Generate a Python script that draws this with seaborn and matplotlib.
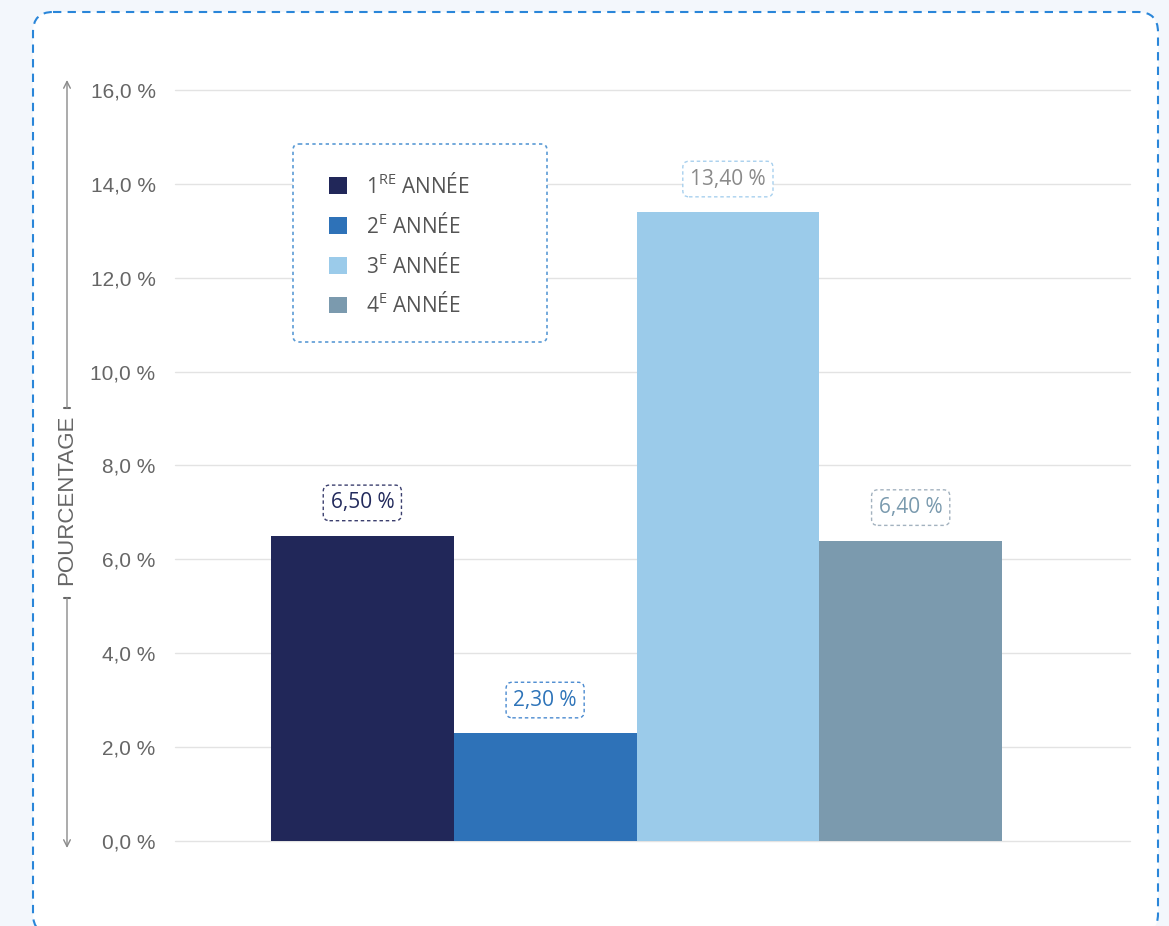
import matplotlib
matplotlib.use("Agg")
import matplotlib.pyplot as plt
import seaborn as sns
import pandas as pd
from matplotlib.patches import FancyBboxPatch

# ---- data ----
years = [r"1$^{RE}$ ANNÉE", r"2$^{E}$ ANNÉE", r"3$^{E}$ ANNÉE", r"4$^{E}$ ANNÉE"]
values = [6.50, 2.30, 13.40, 6.40]
value_labels = ["6,50 %", "2,30 %", "13,40 %", "6,40 %"]
yticks = [0, 2, 4, 6, 8, 10, 12, 14, 16]
ytick_labels = ["0,0 %", "2,0 %", "4,0 %", "6,0 %", "8,0 %", "10,0 %", "12,0 %", "14,0 %", "16,0 %"]
ylabel = "POURCENTAGE"

bar_colors = ["#212759", "#2e72b8", "#9bcbea", "#7b9aae"]
label_text_colors = ["#222a5c", "#2e74b9", "#8a8a8a", "#7a9aae"]
label_edge_colors = ["#3b3f6e", "#4a8ad0", "#a8d0ee", "#a3b2bf"]

sns.set_theme(style="white")
plt.rcParams["font.family"] = ["Open Sans", "DejaVu Sans"]
plt.rcParams["mathtext.default"] = "regular"

W, H = 1169, 926
fig = plt.figure(figsize=(W / 100, H / 100), dpi=100, facecolor="#f3f7fc")

# background overlay (card)
bg = fig.add_axes([0, 0, 1, 1], zorder=0)
bg.set_xlim(0, W); bg.set_ylim(H, 0); bg.axis("off")
bg.add_patch(FancyBboxPatch((33, 12), 1125, 922,
                            boxstyle="round,pad=0,rounding_size=20",
                            fc="white", ec="#2a86d9", lw=1.5,
                            ls=(0, (4, 3)), clip_on=False))

# main axes
ax = fig.add_axes([175 / W, 1 - 841 / H, 955 / W, 751 / H], zorder=1)
ax.set_facecolor("none")

df = pd.DataFrame({"groupe": [""] * len(years), "annee": years, "valeur": values})
sns.barplot(data=df, x="groupe", y="valeur", hue="annee", hue_order=years,
            palette=bar_colors, saturation=1, width=0.8, ax=ax, zorder=2,
            linewidth=0, edgecolor="none")

handles, labels = ax.get_legend_handles_labels()
if ax.get_legend() is not None:
    ax.get_legend().remove()

ax.set_ylim(0, 16)
ax.set_xlim(-0.505, 0.540)
ax.set_yticks(yticks)
ax.set_yticklabels(ytick_labels, family=["Liberation Sans", "DejaVu Sans"],
                   fontsize=15, color="#666666")
ax.tick_params(axis="y", length=0, pad=14)
ax.set_xticks([])
ax.set_xlabel("")
ax.set_ylabel("")
ax.yaxis.grid(True, color="#e3e3e3", lw=1, zorder=0)
for gl in ax.get_ygridlines():
    gl.set_clip_on(False)
ax.set_axisbelow(True)
for s in ax.spines.values():
    s.set_visible(False)

# data labels
i = 0
for cont in ax.containers:
    for bar in cont:
        ax.annotate(value_labels[i],
                    xy=(bar.get_x() + bar.get_width() / 2, bar.get_height()),
                    xytext=(0, 33), textcoords="offset pixels",
                    ha="center", va="center", fontsize=15,
                    color=label_text_colors[i],
                    bbox=dict(boxstyle="round,pad=0.35,rounding_size=0.3",
                              fc="white", ec=label_edge_colors[i], lw=1,
                              ls=(0, (2.5, 2))),
                    zorder=5)
        i += 1

# foreground overlay: y label arrows + legend
fg = fig.add_axes([0, 0, 1, 1], zorder=2)
fg.set_xlim(0, W); fg.set_ylim(H, 0); fg.axis("off")
fg.set_facecolor("none")

arrow_kw = dict(arrowstyle="->", color="#8a8a8a", lw=1, shrinkA=0, shrinkB=0,
                mutation_scale=12)
fg.annotate("", xy=(67, 80), xytext=(67, 408), arrowprops=arrow_kw)
fg.annotate("", xy=(67, 848), xytext=(67, 598), arrowprops=arrow_kw)
fg.plot([64, 70], [408, 408], color="#666666", lw=1.5)
fg.plot([64, 70], [598, 598], color="#666666", lw=1.5)
fg.text(67, 500, ylabel, rotation=90, ha="center", va="center",
        fontsize=16, color="#666666",
        family=["Liberation Sans Narrow", "Liberation Sans", "DejaVu Sans"])

fg.add_patch(FancyBboxPatch((293, 144), 254, 198,
                            boxstyle="round,pad=0,rounding_size=6",
                            fc="white", ec="#5b9bd5", lw=1.2,
                            ls=(0, (2, 2)), zorder=1))
leg = fg.legend(handles, labels, loc="upper left", bbox_to_anchor=(329, 173),
                bbox_transform=fg.transData, frameon=False, borderpad=0,
                borderaxespad=0, handlelength=0.85, handleheight=0.85,
                handletextpad=0.95, labelspacing=0.71, fontsize=15)
leg.set_zorder(5)
for t in leg.get_texts():
    t.set_color("#555555")

fig.savefig("out.png", dpi=100, facecolor=fig.get_facecolor())
